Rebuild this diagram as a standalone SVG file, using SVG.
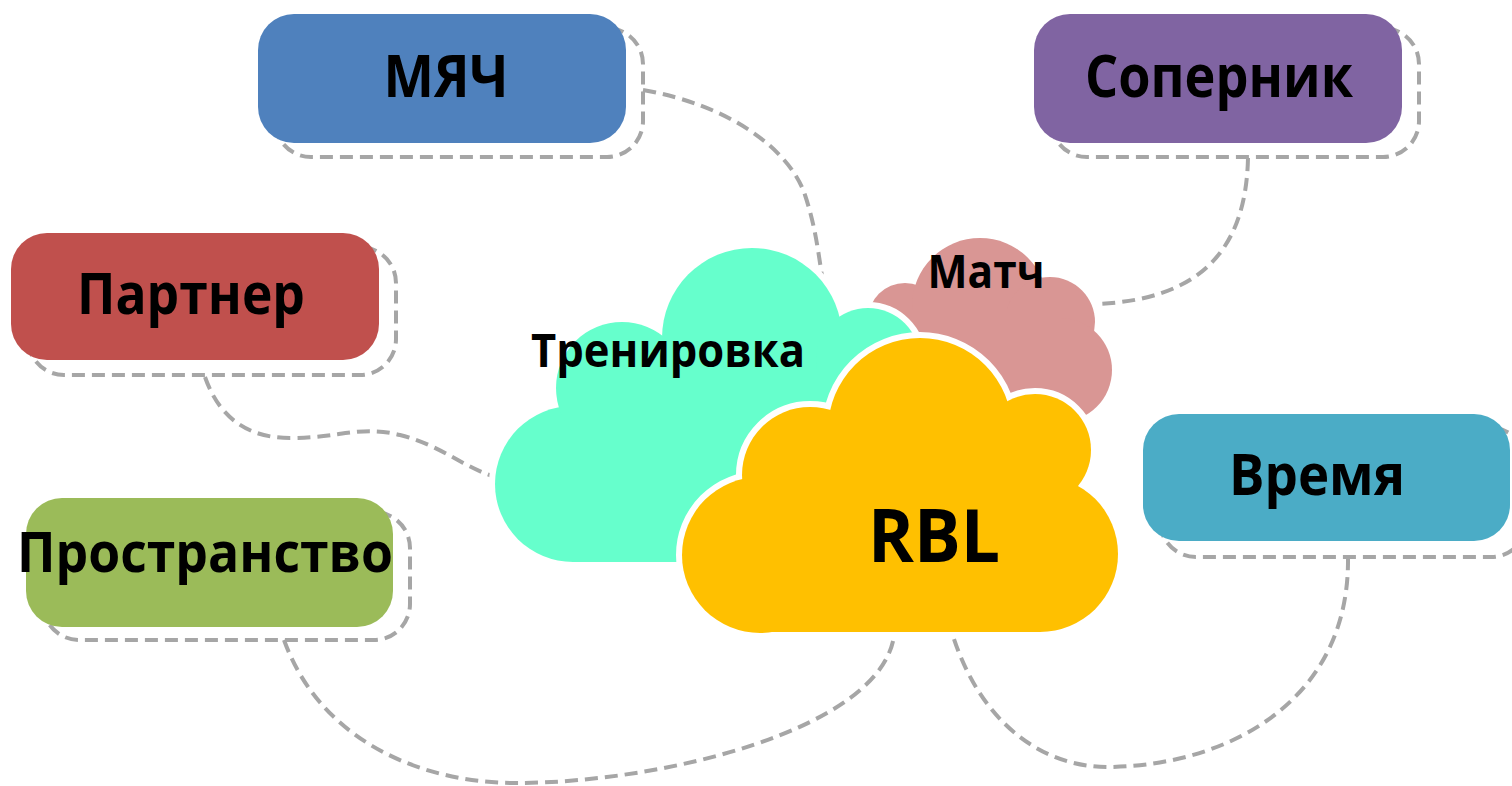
<svg xmlns="http://www.w3.org/2000/svg" xmlns:xlink="http://www.w3.org/1999/xlink" width="1512" height="786" viewBox="0 0 1512 786">
<style>
.lbl{font-family:"Open Sans","Noto Sans","Liberation Sans",sans-serif;font-weight:bold;fill:#000;text-anchor:middle}
.dash{fill:none;stroke:#A6A6A6;stroke-width:4;stroke-dasharray:13 7}
.conn{fill:none;stroke:#A6A6A6;stroke-width:4;stroke-dasharray:13 7}
.halo{fill:#fff;stroke:#fff;stroke-width:12}
</style>
<defs>
<g id="cloudMatch">
<circle cx="905" cy="320" r="37"/>
<circle cx="980" cy="306" r="68"/>
<circle cx="1050" cy="322" r="45"/>
<circle cx="1060" cy="370" r="52"/>
<rect x="900" y="310" width="160" height="120"/>
</g>
<g id="cloudTren">
<circle cx="573" cy="484" r="78"/>
<circle cx="622" cy="388" r="66"/>
<circle cx="752" cy="338" r="90"/>
<circle cx="868" cy="360" r="52"/>
<rect x="573" y="370" width="330" height="192"/>
</g>
<g id="cloudRBL">
<circle cx="760" cy="555" r="78"/>
<circle cx="810" cy="475" r="68"/>
<circle cx="920" cy="430" r="92"/>
<circle cx="1035" cy="450" r="56"/>
<circle cx="1040" cy="554" r="78"/>
<rect x="760" y="440" width="280" height="192"/>
</g>
</defs>
<rect width="1512" height="786" fill="#fff"/>
<g id="connectors">
<path class="conn" d="M643,90 C730,105 790,150 805,195 C815,225 818,250 822,276"/>
<path class="conn" d="M1248,158 C1246,250 1200,300 1096,304"/>
<path class="conn" d="M205,377 C220,420 250,438 290,438 C340,438 360,425 400,435 C440,445 460,465 492,476"/>
<path class="conn" d="M284,640 C320,740 420,783 516,783 C660,783 880,730 894,636"/>
<path class="conn" d="M1348,557 C1350,700 1230,765 1110,767 C1040,768 980,720 953,636"/>
</g>
<g id="node-myach">
<rect class="dash" x="275" y="28" width="368" height="129" rx="36"/>
<rect x="258" y="14" width="368" height="129" rx="36" fill="#4F81BD"/>
<text class="lbl" x="446" y="97" font-size="59" textLength="125" lengthAdjust="spacingAndGlyphs">МЯЧ</text>
</g>
<g id="node-sopernik">
<rect class="dash" x="1051" y="28" width="368" height="129" rx="36"/>
<rect x="1034" y="14" width="368" height="129" rx="36" fill="#8064A2"/>
<text class="lbl" x="1219" y="97" font-size="59" textLength="268" lengthAdjust="spacingAndGlyphs">Соперник</text>
</g>
<g id="node-partner">
<rect class="dash" x="28" y="247" width="368" height="128" rx="36"/>
<rect x="11" y="233" width="368" height="127" rx="36" fill="#C0504D"/>
<text class="lbl" x="191" y="314" font-size="57" textLength="228" lengthAdjust="spacingAndGlyphs">Партнер</text>
</g>
<g id="node-prostranstvo">
<rect class="dash" x="43" y="512" width="367" height="128" rx="36"/>
<rect x="26" y="498" width="367" height="129" rx="36" fill="#9BBB59"/>
<text class="lbl" x="205" y="572" font-size="56" textLength="376" lengthAdjust="spacingAndGlyphs">Пространство</text>
</g>
<g id="node-vremya">
<rect class="dash" x="1160" y="428" width="367" height="129" rx="36"/>
<rect x="1143" y="414" width="367" height="127" rx="36" fill="#4BACC6"/>
<text class="lbl" x="1317" y="495" font-size="57" textLength="176" lengthAdjust="spacingAndGlyphs">Время</text>
</g>
<g id="node-match">
<use xlink:href="#cloudMatch" class="halo"/>
<use xlink:href="#cloudMatch" fill="#D99694"/>
<text class="lbl" x="986" y="288" font-size="46" textLength="117" lengthAdjust="spacingAndGlyphs">Матч</text>
</g>
<g id="node-trenirovka">
<use xlink:href="#cloudTren" class="halo"/>
<use xlink:href="#cloudTren" fill="#66FFCC"/>
<text class="lbl" x="668" y="367" font-size="47" textLength="274" lengthAdjust="spacingAndGlyphs">Тренировка</text>
</g>
<g id="node-rbl">
<use xlink:href="#cloudRBL" class="halo"/>
<use xlink:href="#cloudRBL" fill="#FFC000"/>
<text class="lbl" x="934" y="562" font-size="74" textLength="132" lengthAdjust="spacingAndGlyphs">RBL</text>
</g>
</svg>
